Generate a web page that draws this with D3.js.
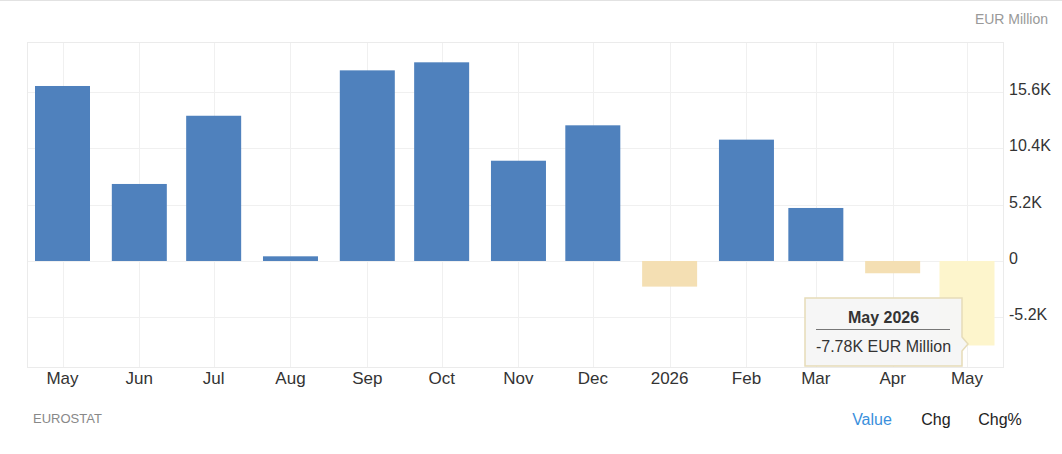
<!DOCTYPE html>
<html>
<head>
<meta charset="utf-8">
<script src="https://cdn.jsdelivr.net/npm/d3@7"></script>
<style>
  body { margin: 0; background: #fff; }
  svg { display: block; font-family: "Liberation Sans", Arial, sans-serif; }
</style>
</head>
<body>
<div id="chart"></div>
<script>
// months (first day of each month), values in EUR million
var months = ["2025-05", "2025-06", "2025-07", "2025-08", "2025-09", "2025-10", "2025-11",
              "2025-12", "2026-01", "2026-02", "2026-03", "2026-04", "2026-05"];
var monthLabels = ["May", "Jun", "Jul", "Aug", "Sep", "Oct", "Nov", "Dec", "2026", "Feb", "Mar", "Apr", "May"];
var values = [16110, 7090, 13370, 430, 17550, 18290, 9230, 12490, -2360, 11170, 4880, -1130, -7780];
var yTicks = [-5200, 0, 5200, 10400, 15600];
var yDomain = [-9760, 20160];

var W = 1062, H = 454;
var plot = {left: 27, right: 1003, top: 42, bottom: 367};
var barW = 55;
var hovered = 12;

var parse = d3.timeParse("%Y-%m");
var dates = months.map(parse);

var svg = d3.select("#chart").append("svg")
  .attr("width", W)
  .attr("height", H);

// time scale: month centres are spaced by the number of days
var x = d3.scaleTime()
  .domain([dates[0], dates[dates.length - 1]])
  .range([62.5, 967]);

var y = d3.scaleLinear()
  .domain(yDomain)
  .range([plot.bottom, plot.top]);

// thin rule at the very top
svg.append("line")
  .attr("x1", 0).attr("x2", W)
  .attr("y1", 0.5).attr("y2", 0.5)
  .attr("stroke", "#e2e2e2");

// grid
var grid = svg.append("g");
grid.selectAll(".hg")
  .data(yTicks)
  .enter().append("line")
  .attr("x1", plot.left).attr("x2", plot.right)
  .attr("y1", function (d) { return Math.round(y(d)) + 0.5; })
  .attr("y2", function (d) { return Math.round(y(d)) + 0.5; })
  .attr("stroke", "#f0f0f0");
grid.selectAll(".vg")
  .data(dates)
  .enter().append("line")
  .attr("x1", function (d) { return Math.round(x(d)) + 0.5; })
  .attr("x2", function (d) { return Math.round(x(d)) + 0.5; })
  .attr("y1", plot.top).attr("y2", plot.bottom)
  .attr("stroke", "#f0f0f0");

// plot frame
svg.append("rect")
  .attr("x", plot.left + 0.5).attr("y", plot.top + 0.5)
  .attr("width", plot.right - plot.left)
  .attr("height", plot.bottom - plot.top)
  .attr("fill", "none")
  .attr("stroke", "#ebebeb");

// bars
svg.selectAll(".bar")
  .data(values)
  .enter().append("rect")
  .attr("class", "bar")
  .attr("x", function (d, i) { return x(dates[i]) - barW / 2; })
  .attr("width", barW)
  .attr("y", function (d) { return y(Math.max(0, d)); })
  .attr("height", function (d) { return Math.abs(y(d) - y(0)); })
  .attr("fill", function (d, i) {
    if (i === hovered) return "#fdf5cc";
    return d >= 0 ? "#4f81bd" : "#f4dfb3";
  });

// x labels
svg.append("g").selectAll("text")
  .data(monthLabels)
  .enter().append("text")
  .attr("x", function (d, i) { return x(dates[i]); })
  .attr("y", 384)
  .attr("text-anchor", "middle")
  .attr("font-size", "17px")
  .attr("fill", "#333")
  .text(function (d) { return d; });

// y labels on the right (plain hyphen for negatives)
var fmt = function (d) { return d === 0 ? "0" : (d / 1000).toFixed(1) + "K"; };
svg.append("g").selectAll("text")
  .data(yTicks)
  .enter().append("text")
  .attr("x", 1009)
  .attr("y", function (d) { return y(d) + 3; })
  .attr("font-size", "16px")
  .attr("fill", "#333")
  .text(fmt);

svg.append("text")
  .attr("x", 1048).attr("y", 24)
  .attr("text-anchor", "end")
  .attr("font-size", "14px")
  .attr("fill", "#999")
  .text("EUR Million");

svg.append("text")
  .attr("x", 33).attr("y", 423)
  .attr("font-size", "13px")
  .attr("fill", "#888")
  .text("EUROSTAT");

var tabs = [{t: "Value", x: 872, c: "#3a8fdc"}, {t: "Chg", x: 936, c: "#222"}, {t: "Chg%", x: 1000, c: "#222"}];
svg.append("g").selectAll("text")
  .data(tabs)
  .enter().append("text")
  .attr("x", function (d) { return d.x; })
  .attr("y", 425)
  .attr("text-anchor", "middle")
  .attr("font-size", "16px")
  .attr("fill", function (d) { return d.c; })
  .text(function (d) { return d.t; });

// tooltip for the hovered bar, its pointer sits over the bar
var tipR = x(dates[hovered]) - 5, tipL = tipR - 157, tipT = 298, tipB = 366, ay = 344;
var tip = svg.append("g");
tip.append("path")
  .attr("d", "M" + tipL + "," + tipT + " H" + tipR + " V" + (ay - 7) + " L" + (tipR + 6) + "," + ay +
             " L" + tipR + "," + (ay + 7) + " V" + tipB + " H" + tipL + " Z")
  .attr("fill", "#f6f6f6")
  .attr("fill-opacity", 0.95)
  .attr("stroke", "#e6dcb8")
  .attr("stroke-width", 1.5);
var tcx = (tipL + tipR) / 2;
tip.append("text")
  .attr("x", tcx).attr("y", 323)
  .attr("text-anchor", "middle")
  .attr("font-size", "16px")
  .attr("font-weight", "bold")
  .attr("fill", "#333")
  .text("May 2026");
tip.append("line")
  .attr("x1", tipL + 11).attr("x2", tipR - 12)
  .attr("y1", 329.5).attr("y2", 329.5)
  .attr("stroke", "#777");
tip.append("text")
  .attr("x", tcx).attr("y", 352)
  .attr("text-anchor", "middle")
  .attr("font-size", "16px")
  .attr("fill", "#333")
  .text((values[hovered] / 1000).toFixed(2) + "K EUR Million");
</script>
</body>
</html>
